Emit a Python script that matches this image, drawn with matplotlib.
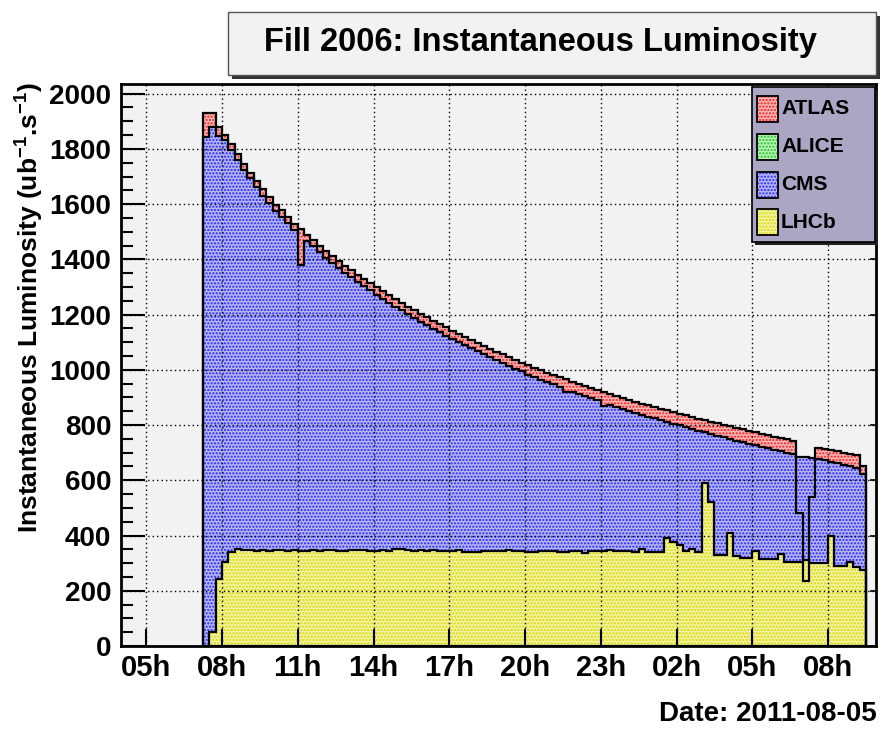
import matplotlib
matplotlib.use('Agg')
import matplotlib.pyplot as plt
from matplotlib.patches import Rectangle
from matplotlib.ticker import MultipleLocator, FixedLocator
import numpy as np

plt.rcParams['font.family'] = ['Liberation Sans', 'DejaVu Sans']
plt.rcParams['font.weight'] = 'bold'
plt.rcParams['mathtext.fontset'] = 'custom'
plt.rcParams['mathtext.rm'] = 'Liberation Sans:bold'
plt.rcParams['mathtext.bf'] = 'Liberation Sans:bold'
plt.rcParams['mathtext.it'] = 'Liberation Sans:bold'
plt.rcParams['hatch.linewidth'] = 1.0

# ---------------- data ----------------
title = "Fill 2006: Instantaneous Luminosity"
date_label = "Date: 2011-08-05"
t_start = 7.25      # hours (07:15 on 2011-08-05)
bin_width = 0.25    # hours (15 min bins)

atlas = [1931, 1931, 1879, 1850, 1817, 1780, 1745, 1714, 1684, 1653,
         1626, 1598, 1578, 1553, 1529, 1511, 1490, 1471, 1450, 1430,
         1411, 1394, 1377, 1361, 1345, 1329, 1314, 1299, 1285, 1271,
         1257, 1243, 1229, 1216, 1203, 1190, 1178, 1166, 1154, 1142,
         1131, 1120, 1109, 1098, 1087, 1076, 1066, 1056, 1046, 1036,
         1026, 1016, 1007, 998, 990, 981, 973, 965, 957, 949,
         941, 933, 926, 918, 911, 904, 897, 891, 884, 878,
         871, 865, 859, 853, 847, 841, 835, 829, 823, 818,
         812, 806, 801, 795, 790, 785, 779, 774, 769, 764,
         758, 753, 748, 743, 483, 237, 541, 718, 714, 709,
         705, 700, 696, 690, 650]

alice = [0.0, 0.6, 1.2, 1.5, 1.6, 1.7, 1.7, 1.6, 1.6, 1.6,
         1.6, 1.5, 1.5, 1.5, 1.5, 1.4, 1.5, 1.5, 1.4, 1.4,
         1.4, 1.4, 1.4, 1.3, 1.3, 1.3, 1.3, 1.3, 1.3, 1.2,
         1.2, 1.2, 1.2, 1.2, 1.2, 1.1, 1.1, 1.1, 1.1, 1.1,
         1.1, 1.1, 1.0, 1.0, 1.0, 1.0, 1.0, 1.0, 1.0, 1.0,
         0.9, 0.9, 0.9, 0.9, 0.9, 0.9, 0.9, 0.9, 0.9, 0.9,
         0.9, 0.8, 0.8, 0.8, 0.8, 0.8, 0.8, 0.8, 0.8, 0.8,
         0.8, 0.8, 0.8, 0.8, 0.8, 0.7, 0.7, 0.7, 0.7, 0.7,
         0.7, 0.7, 0.7, 0.7, 0.7, 0.7, 0.7, 0.7, 0.7, 0.7,
         0.7, 0.7, 0.6, 0.6, 0.6, 0.6, 0.6, 0.6, 0.6, 0.6,
         0.6, 0.6, 0.6, 0.6, 0.6]

cms = [1844, 1879, 1847, 1832, 1797, 1760, 1724, 1693, 1662, 1631,
       1604, 1576, 1555, 1530, 1506, 1380, 1466, 1447, 1426, 1405,
       1386, 1369, 1352, 1335, 1319, 1303, 1288, 1272, 1258, 1243,
       1229, 1215, 1201, 1188, 1174, 1161, 1149, 1137, 1124, 1112,
       1100, 1089, 1078, 1067, 1056, 1045, 1035, 1024, 1014, 1004,
       994, 983, 974, 964, 956, 947, 938, 918, 921, 913,
       905, 897, 889, 869, 873, 866, 859, 852, 845, 838,
       831, 825, 818, 812, 805, 799, 793, 786, 780, 774,
       768, 762, 756, 750, 744, 739, 733, 727, 722, 716,
       711, 705, 700, 695, 684, 684, 680, 678, 672, 667,
       662, 656, 651, 645, 622]

lhcb = [0, 52, 242, 304, 340, 351, 348, 347, 345, 346,
        344, 346, 347, 345, 346, 344, 343, 346, 345, 347,
        346, 345, 343, 346, 348, 347, 345, 344, 346, 345,
        350, 351, 348, 344, 347, 345, 349, 345, 343, 345,
        346, 340, 339, 340, 343, 343, 344, 343, 346, 345,
        343, 342, 340, 343, 344, 344, 342, 340, 343, 343,
        338, 343, 344, 345, 346, 345, 344, 343, 341, 352,
        339, 339, 339, 391, 375, 367, 343, 350, 339, 592,
        521, 329, 329, 409, 325, 318, 318, 343, 315, 315,
        315, 333, 304, 304, 304, 312, 301, 301, 301, 400,
        291, 291, 303, 286, 274]

series_names = ['ATLAS', 'ALICE', 'CMS', 'LHCb']
series_values = [atlas, alice, cms, lhcb]
face_colors = ['#f4b4b4', '#b8eeb8', '#b4b4f2', '#f2f2a0']
dot_colors = ['#ff1a1a', '#18c818', '#2424ff', '#d8d800']

x_ticks = [5, 8, 11, 14, 17, 20, 23, 26, 29, 32]
x_tick_labels = ['05h', '08h', '11h', '14h', '17h', '20h', '23h', '02h', '05h', '08h']
y_ticks = [0, 200, 400, 600, 800, 1000, 1200, 1400, 1600, 1800, 2000]
x_range = (4.0, 33.9)
y_range = (0, 2035)

# ---------------- figure ----------------
W, H = 883, 731
fig = plt.figure(figsize=(W / 100, H / 100), dpi=100, facecolor='white')
ax = fig.add_axes([121 / W, 85 / H, 755 / W, 562 / H])
ax.set_facecolor('#f2f2f2')

edges = t_start + bin_width * np.arange(len(atlas) + 1)

for vals, fc, dc in zip(series_values, face_colors, dot_colors):
    ax.stairs(vals, edges, baseline=0, fill=True, facecolor=fc,
              edgecolor=dc, hatch='.....', linewidth=0, zorder=1)
for vals in series_values:
    ax.stairs(vals, edges, baseline=0, fill=False, color='black',
              linewidth=1.6, zorder=3)

ax.set_xlim(*x_range)
ax.set_ylim(*y_range)
ax.set_axisbelow(False)

ax.xaxis.set_major_locator(FixedLocator(x_ticks))
ax.set_xticklabels(x_tick_labels)
ax.yaxis.set_major_locator(FixedLocator(y_ticks))
ax.yaxis.set_minor_locator(MultipleLocator(50))
ax.xaxis.set_minor_locator(FixedLocator([]))

ax.grid(True, which='major', color='black', linestyle=(0, (1, 2.2)), linewidth=1.0)

ax.tick_params(axis='y', which='major', direction='in', length=17, width=1.5,
               labelsize=20, pad=7)
ax.tick_params(axis='y', which='minor', direction='in', length=8.5, width=1.5)
ax.tick_params(axis='x', which='major', direction='in', length=12.5, width=1.5,
               labelsize=21, pad=6)
for lab in ax.get_xticklabels() + ax.get_yticklabels():
    lab.set_fontweight('bold')

sec = ax.secondary_yaxis('right')
sec.yaxis.set_major_locator(FixedLocator(y_ticks))
sec.tick_params(direction='in', length=4.5, width=1.2, labelright=False)
sec.spines['right'].set_visible(False)

for sp in ax.spines.values():
    sp.set_linewidth(2.0)
    sp.set_color('black')
    sp.set_zorder(4)

# y axis title
fig.text(30 / W, 1 - 308 / H,
         r'Instantaneous Luminosity (ub$^{-1}$.s$^{-1}$)',
         rotation=90, ha='center', va='center', fontsize=19, fontweight='bold')

# date label
fig.text(877 / W, 1 - 714 / H, date_label, ha='right', va='center',
         fontsize=20, fontweight='bold')

# title box with shadow
bx0, by0, bx1, by1 = 228, 12, 876, 75
fig.patches.append(Rectangle(((bx0 + 4) / W, 1 - (by1 + 4) / H), (bx1 - bx0) / W, (by1 - by0) / H,
                             transform=fig.transFigure, facecolor='#333333', edgecolor='none'))
fig.patches.append(Rectangle((bx0 / W, 1 - by1 / H), (bx1 - bx0) / W, (by1 - by0) / H,
                             transform=fig.transFigure, facecolor='#f2f2f2',
                             edgecolor='#555555', linewidth=1.0))
fig.text(540 / W, 1 - 43 / H, title, ha='center', va='center',
         fontsize=23.5, fontweight='bold')

# legend (drawn manually, ROOT style)
def axfrac_x(px):
    return (px - 121) / 755

def axfrac_y(py):
    return (647 - py) / 562

lx0, ly0, lx1, ly1 = 752, 88, 875, 243
ax.add_patch(Rectangle((axfrac_x(lx0 + 3), axfrac_y(ly1 + 3)),
                       axfrac_x(lx1) - axfrac_x(lx0), axfrac_y(ly0) - axfrac_y(ly1),
                       transform=ax.transAxes, facecolor='#222222', edgecolor='none',
                       zorder=5, clip_on=False))
ax.add_patch(Rectangle((axfrac_x(lx0), axfrac_y(ly1)),
                       axfrac_x(lx1) - axfrac_x(lx0), axfrac_y(ly0) - axfrac_y(ly1),
                       transform=ax.transAxes, facecolor='#aaa6c4', edgecolor='black',
                       linewidth=1.2, zorder=6, clip_on=False))
row_centers = [110, 148, 186, 223]
for name, fc, dc, yc in zip(series_names, face_colors, dot_colors, row_centers):
    sx0, sx1 = 757, 778
    sy0, sy1 = yc - 13, yc + 13
    ax.add_patch(Rectangle((axfrac_x(sx0), axfrac_y(sy1)),
                           axfrac_x(sx1) - axfrac_x(sx0), axfrac_y(sy0) - axfrac_y(sy1),
                           transform=ax.transAxes, facecolor=fc, edgecolor=dc,
                           hatch='.....', linewidth=0, zorder=7, clip_on=False))
    ax.add_patch(Rectangle((axfrac_x(sx0), axfrac_y(sy1)),
                           axfrac_x(sx1) - axfrac_x(sx0), axfrac_y(sy0) - axfrac_y(sy1),
                           transform=ax.transAxes, fill=False, edgecolor='black',
                           linewidth=1.3, zorder=8, clip_on=False))
    ax.text(axfrac_x(781), axfrac_y(yc), name, transform=ax.transAxes,
            ha='left', va='center', fontsize=15, fontweight='bold', zorder=9)

fig.savefig('out.png', dpi=100, facecolor='white')
